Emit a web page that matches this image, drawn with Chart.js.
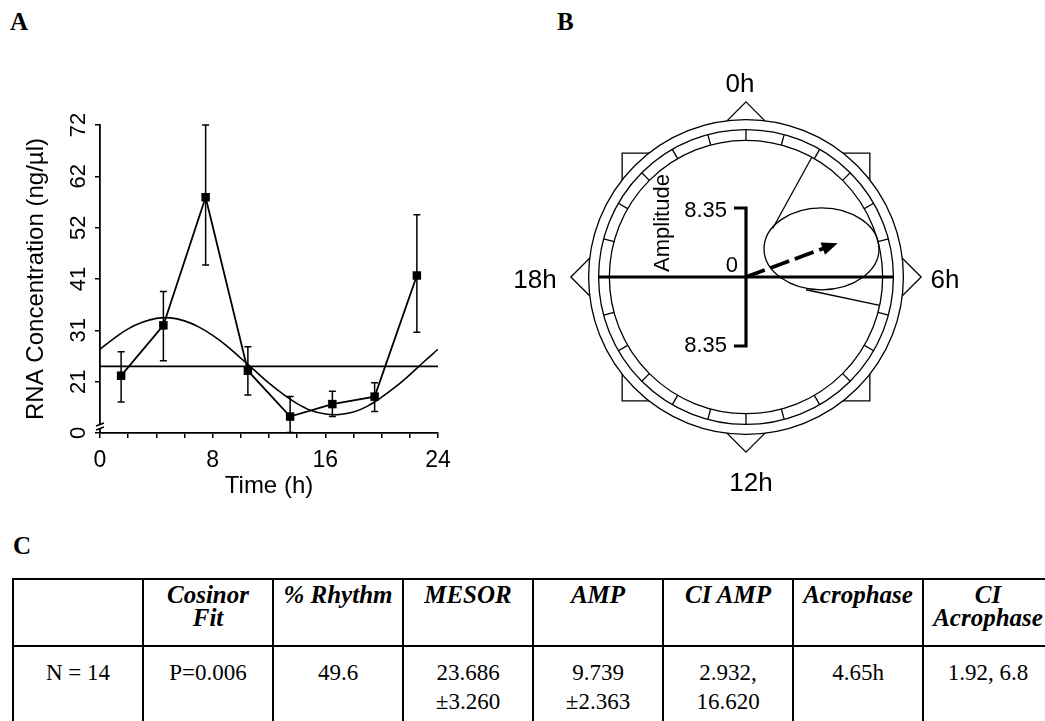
<!DOCTYPE html>
<html lang="en">
  <head>
    <meta charset="UTF-8" />
    <title>RNA concentration cosinor analysis</title>
    <script src="https://cdn.jsdelivr.net/npm/chart.js"></script>
    <style>
      body {
        margin: 0;
        width: 1045px;
        height: 721px;
        overflow: hidden;
        position: relative;
        background: #fff;
        font-family: "Liberation Sans", Arial, sans-serif;
      }
      .panel-label {
        position: absolute;
        font-family: "Liberation Serif", "Times New Roman", serif;
        font-weight: bold;
        font-size: 25px;
        line-height: 25px;
      }
      #chartA {
        position: absolute;
        left: 0;
        top: 90px;
      }
      #chartB {
        position: absolute;
        left: 496px;
        top: 51px;
      }
      #stats {
        position: absolute;
        left: 12px;
        top: 578px;
        width: 1042px;
        border-collapse: collapse;
        table-layout: fixed;
        font-family: "Liberation Serif", "Times New Roman", serif;
      }
      #stats td {
        border: 2px solid #000;
        text-align: center;
        vertical-align: top;
        padding: 0;
        white-space: nowrap;
      }
      #stats tr.head td {
        height: 62px;
        padding-top: 3px;
        font-size: 25px;
        line-height: 23px;
        font-weight: bold;
        font-style: italic;
      }
      #stats tr.body td {
        height: 90px;
        padding-top: 11px;
        font-size: 23px;
        line-height: 29px;
      }
    </style>
  </head>
  <body>
    <div class="panel-label" style="left: 10px; top: 9px">A</div>
    <div class="panel-label" style="left: 557px; top: 9px">B</div>
    <div class="panel-label" style="left: 13px; top: 533px">C</div>

    <canvas id="chartA" width="470" height="420"></canvas>
    <canvas id="chartB" width="500" height="452"></canvas>
    <table id="stats"></table>

    <script>
      const sampleHours = [1.5, 4.5, 7.5, 10.5, 13.5, 16.5, 19.5, 22.5];
      const rnaMean = [21.8, 31.9, 57.6, 22.8, 13.6, 16.1, 17.6, 41.9];
      const rnaUpper = [26.6, 38.7, 72.1, 27.6, 17.6, 18.7, 20.4, 54.1];
      const rnaLower = [16.5, 24.8, 44.0, 17.9, 10.4, 13.6, 14.6, 30.5];

      // fitted cosine curve as drawn, read hour by hour
      const fitHours = [0, 1, 2, 3, 4, 5, 6, 7, 8, 9, 10, 11, 12, 13, 14, 15, 16, 17, 18, 19, 20, 21, 22, 23, 24];
      const fitValues = [27.1, 29.3, 31.2, 32.5, 33.3, 33.4, 32.8, 31.6, 29.9, 27.8, 25.3, 22.8, 20.3, 18.1, 16.2, 14.8, 14.1, 14.0, 14.5, 15.7, 17.5, 19.6, 22.0, 24.6, 27.1];
      const mesorLevel = 23.686;

      const xTickHours = [0, 2, 4, 6, 8, 10, 12, 14, 16, 18, 20, 22, 24];
      const xLabelHours = [0, 8, 16, 24];
      const yTickValues = [10.3, 20.6, 30.9, 41.2, 51.5, 61.8, 72.1];
      const yTickLabels = ["0", "21", "31", "41", "52", "62", "72"];

      // panel B: cosinor vector diagram
      const acrophaseHours = 4.65;
      const vectorLength = 11.84;
      const ciPhaseHours = [1.92, 6.8];
      const ciRayStart = [6.69, 7.42];
      const ciRayEnd = 16.54;
      const ellipseCentre = [9.14, 3.41];
      const ellipseRadii = [6.96, 4.96];
      const ampMark = 8.35;
      const ampLabels = ["8.35", "0", "8.35"];
      const clockLabels = ["0h", "6h", "12h", "18h"];

      // panel C: statistics table
      const tableHeaders = ["", "Cosinor\nFit", "% Rhythm", "MESOR", "AMP", "CI AMP", "Acrophase", "CI\nAcrophase"];
      const tableRow = ["N = 14", "P=0.006", "49.6", "23.686\n\u00b13.260", "9.739\n\u00b12.363", "2.932,\n16.620", "4.65h", "1.92, 6.8"];

      Chart.defaults.font.family = '"Liberation Sans", Arial, sans-serif';
      Chart.defaults.color = "#000";

      const errorBarPlugin = {
        id: "errorBars",
        afterDatasetsDraw(chart) {
          const { ctx } = chart;
          const x = chart.scales.x;
          const y = chart.scales.y;
          ctx.save();
          ctx.strokeStyle = "#000";
          ctx.lineWidth = 1.5;
          sampleHours.forEach((h, i) => {
            const px = x.getPixelForValue(h);
            const top = y.getPixelForValue(rnaUpper[i]);
            const bot = y.getPixelForValue(rnaLower[i]);
            ctx.beginPath();
            ctx.moveTo(px, top);
            ctx.lineTo(px, bot);
            ctx.moveTo(px - 3.5, top);
            ctx.lineTo(px + 3.5, top);
            ctx.moveTo(px - 3.5, bot);
            ctx.lineTo(px + 3.5, bot);
            ctx.stroke();
          });
          // axis break near the bottom of the y axis
          const bx = x.left;
          const by = y.bottom - 6;
          ctx.fillStyle = "#fff";
          ctx.fillRect(bx - 2, by - 2, 4, 4);
          ctx.beginPath();
          ctx.moveTo(bx - 4, by - 1);
          ctx.lineTo(bx + 4, by - 4);
          ctx.moveTo(bx - 4, by + 3);
          ctx.lineTo(bx + 4, by);
          ctx.stroke();
          ctx.restore();
        },
      };

      new Chart(document.getElementById("chartA"), {
        type: "scatter",
        data: {
          datasets: [
            {
              label: "RNA",
              data: sampleHours.map((h, i) => ({ x: h, y: rnaMean[i] })),
              showLine: true,
              borderColor: "#000",
              borderWidth: 1.8,
              pointStyle: "rect",
              pointRadius: 6,
              pointBackgroundColor: "#000",
              pointBorderWidth: 0,
            },
            {
              label: "Cosinor fit",
              data: fitHours.map((h, i) => ({ x: h, y: fitValues[i] })),
              showLine: true,
              borderColor: "#000",
              borderWidth: 1.6,
              tension: 0.4,
              pointRadius: 0,
            },
            {
              label: "MESOR",
              data: [
                { x: 0, y: mesorLevel },
                { x: 24, y: mesorLevel },
              ],
              showLine: true,
              borderColor: "#000",
              borderWidth: 1.8,
              pointRadius: 0,
            },
          ],
        },
        options: {
          responsive: false,
          animation: false,
          layout: { padding: { left: 18, top: 35, right: 32, bottom: 0 } },
          plugins: { legend: { display: false }, tooltip: { enabled: false } },
          scales: {
            x: {
              type: "linear",
              min: 0,
              max: 24,
              afterBuildTicks: (s) => {
                s.ticks = xTickHours.map((v) => ({ value: v }));
              },
              afterFit: (s) => {
                s.height = 77;
              },
              ticks: {
                autoSkip: false,
                maxRotation: 0,
                padding: 9,
                font: { size: 23 },
                callback: (v) => (xLabelHours.includes(v) ? String(v) : ""),
              },
              grid: { drawOnChartArea: false, tickLength: 5, color: "#000", lineWidth: 1.5 },
              border: { color: "#000", width: 1.8 },
              title: {
                display: true,
                text: "Time (h)",
                font: { size: 24 },
                padding: { top: 0, bottom: 9 },
              },
            },
            y: {
              type: "linear",
              min: 10.3,
              max: 72.1,
              afterBuildTicks: (s) => {
                s.ticks = yTickValues.map((v) => ({ value: v }));
              },
              afterFit: (s) => {
                s.width = 82;
              },
              ticks: {
                autoSkip: false,
                minRotation: 90,
                maxRotation: 90,
                crossAlign: "center",
                padding: 4,
                font: { size: 22 },
                callback: (v, i) => yTickLabels[i],
              },
              grid: { drawOnChartArea: false, tickLength: 5, color: "#000", lineWidth: 1.5 },
              border: { color: "#000", width: 1.8 },
              title: {
                display: true,
                text: "RNA Concentration (ng/\u00b5l)",
                font: { size: 24 },
                padding: { top: 4, bottom: 0 },
              },
            },
          },
        },
        plugins: [errorBarPlugin],
      });

      // hours on a 24 h clock -> x/y in amplitude units, 0h at the top
      function polar(hours, r) {
        const a = (hours / 24) * 2 * Math.PI;
        return { x: r * Math.sin(a), y: r * Math.cos(a) };
      }

      const dialPlugin = {
        id: "dial",
        beforeDatasetsDraw(chart) {
          const { ctx } = chart;
          const sx = chart.scales.x;
          const sy = chart.scales.y;
          const cx = sx.getPixelForValue(0);
          const cy = sy.getPixelForValue(0);
          const k = sx.getPixelForValue(1) - cx;
          const outerR = 19.05 * k;
          const midR = 17.84 * k;
          const innerR = 16.54 * k;
          const star = 21.2 * k;

          ctx.save();
          ctx.strokeStyle = "#000";
          ctx.lineWidth = 1.3;

          // eight-point star behind the dial
          const half = star / Math.SQRT2;
          ctx.beginPath();
          ctx.rect(cx - half, cy - half, half * 2, half * 2);
          ctx.moveTo(cx, cy - star);
          ctx.lineTo(cx + star, cy);
          ctx.lineTo(cx, cy + star);
          ctx.lineTo(cx - star, cy);
          ctx.closePath();
          ctx.stroke();

          ctx.fillStyle = "#fff";
          ctx.beginPath();
          ctx.arc(cx, cy, outerR, 0, Math.PI * 2);
          ctx.fill();
          ctx.stroke();
          [midR, innerR].forEach((r) => {
            ctx.beginPath();
            ctx.arc(cx, cy, r, 0, Math.PI * 2);
            ctx.stroke();
          });

          // hour divisions in the band
          ctx.beginPath();
          for (let h = 0; h < 24; h++) {
            const a = (h / 24) * 2 * Math.PI;
            ctx.moveTo(cx + innerR * Math.sin(a), cy - innerR * Math.cos(a));
            ctx.lineTo(cx + midR * Math.sin(a), cy - midR * Math.cos(a));
          }
          ctx.stroke();

          // horizontal reference and amplitude scale
          ctx.lineWidth = 3.2;
          ctx.beginPath();
          ctx.moveTo(cx - midR, cy);
          ctx.lineTo(cx + midR, cy);
          const ampTop = sy.getPixelForValue(ampMark);
          const ampBot = sy.getPixelForValue(-ampMark);
          ctx.moveTo(cx - 12, ampTop);
          ctx.lineTo(cx, ampTop);
          ctx.lineTo(cx, ampBot);
          ctx.lineTo(cx - 12, ampBot);
          ctx.stroke();

          // confidence ellipse
          ctx.lineWidth = 1.3;
          ctx.beginPath();
          ctx.ellipse(
            sx.getPixelForValue(ellipseCentre[0]),
            sy.getPixelForValue(ellipseCentre[1]),
            ellipseRadii[0] * k,
            ellipseRadii[1] * k,
            0,
            0,
            Math.PI * 2
          );
          ctx.stroke();

          // text
          ctx.fillStyle = "#000";
          ctx.textBaseline = "middle";
          ctx.textAlign = "center";
          ctx.font = '26px "Liberation Sans", Arial, sans-serif';
          ctx.fillText(clockLabels[0], cx - 6, cy - 192);
          ctx.fillText(clockLabels[1], cx + 199, cy + 4);
          ctx.fillText(clockLabels[2], cx + 5, cy + 207);
          ctx.fillText(clockLabels[3], cx - 211, cy + 4);

          ctx.font = '22px "Liberation Sans", Arial, sans-serif';
          ctx.textAlign = "right";
          ctx.fillText(ampLabels[0], cx - 19, ampTop + 3);
          ctx.fillText(ampLabels[1], cx - 8, cy - 11);
          ctx.fillText(ampLabels[2], cx - 19, ampBot);

          ctx.translate(cx - 83, cy - 54);
          ctx.rotate(-Math.PI / 2);
          ctx.textAlign = "center";
          ctx.fillText("Amplitude", 0, 0);
          ctx.restore();
        },
        afterDatasetsDraw(chart) {
          const { ctx } = chart;
          const sx = chart.scales.x;
          const sy = chart.scales.y;
          const tip = polar(acrophaseHours, vectorLength);
          const px = sx.getPixelForValue(tip.x);
          const py = sy.getPixelForValue(tip.y);
          const cx = sx.getPixelForValue(0);
          const cy = sy.getPixelForValue(0);
          const ang = Math.atan2(py - cy, px - cx);
          ctx.save();
          ctx.fillStyle = "#000";
          ctx.translate(px, py);
          ctx.rotate(ang);
          ctx.beginPath();
          ctx.moveTo(0, 0);
          ctx.lineTo(-16, -6.5);
          ctx.lineTo(-16, 6.5);
          ctx.closePath();
          ctx.fill();
          ctx.restore();
        },
      };

      const vectorTip = polar(acrophaseHours, vectorLength - 10 / 8.26);

      new Chart(document.getElementById("chartB"), {
        type: "scatter",
        data: {
          datasets: [
            ...ciPhaseHours.map((h, i) => ({
              label: "CI " + h,
              data: [polar(h, ciRayStart[i]), polar(h, ciRayEnd)],
              showLine: true,
              borderColor: "#000",
              borderWidth: 1.3,
              pointRadius: 0,
            })),
            {
              label: "Vector",
              data: [{ x: 0, y: 0 }, vectorTip],
              showLine: true,
              borderColor: "#000",
              borderWidth: 3.8,
              borderDash: [20, 6],
              pointRadius: 0,
            },
          ],
        },
        options: {
          responsive: false,
          animation: false,
          layout: { padding: 0 },
          plugins: { legend: { display: false }, tooltip: { enabled: false } },
          scales: {
            x: { type: "linear", min: -30.26, max: 30.26, display: false },
            y: { type: "linear", min: -27.35, max: 27.35, display: false },
          },
        },
        plugins: [dialPlugin],
      });

      // table for panel C
      const table = document.getElementById("stats");
      [
        ["head", tableHeaders],
        ["body", tableRow],
      ].forEach(([cls, cells]) => {
        const tr = document.createElement("tr");
        tr.className = cls;
        cells.forEach((text) => {
          const td = document.createElement("td");
          text.split("\n").forEach((line, j) => {
            if (j > 0) td.appendChild(document.createElement("br"));
            td.appendChild(document.createTextNode(line));
          });
          tr.appendChild(td);
        });
        table.appendChild(tr);
      });
    </script>
  </body>
</html>
